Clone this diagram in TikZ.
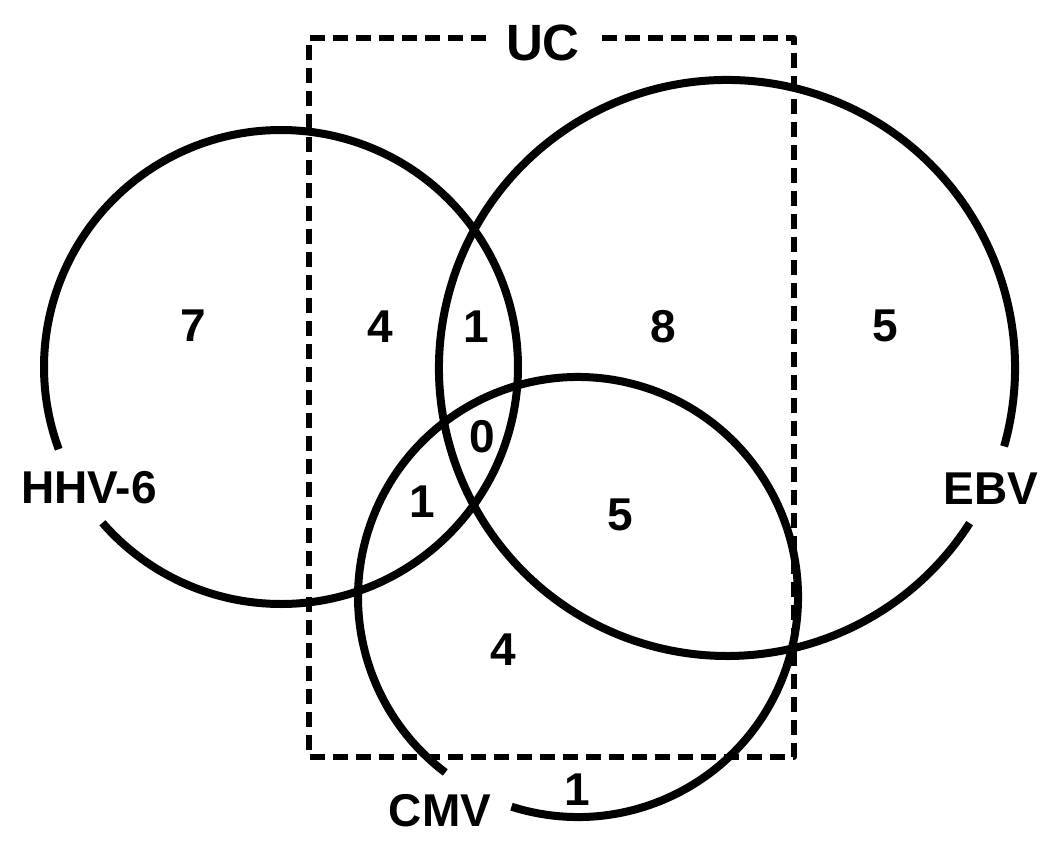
\documentclass[tikz,border=0pt]{standalone}
\usepackage{fontspec}
\setmainfont{Liberation Sans}
\begin{document}
\begin{tikzpicture}[x=1pt,y=1pt,
  ring/.style={line width=8pt},
  ucbox/.style={line width=6pt,dash pattern=on 15pt off 8pt,line join=round},
  lbl/.style={inner sep=0pt,font=\fontsize{46}{50}\selectfont\bfseries},
  uclbl/.style={inner sep=0pt,font=\fontsize{51}{55}\selectfont\bfseries}]
\useasboundingbox (0,0) rectangle (1060,-849);
% circles
\coordinate (hc) at (281,-367);
\coordinate (ec) at (727,-368);
\coordinate (cc) at (578,-597);
\draw[ring] (hc) ++(221.1:237pt) arc[start angle=221.1,end angle=560.3,radius=237pt];
\draw[ring] (ec) ++(-15.8:288pt) arc[start angle=-15.8,end angle=327.4,radius=288pt];
\draw[ring] (cc) ++(252.4:220pt) arc[start angle=252.4,end angle=592.9,radius=220pt];
% UC box
\coordinate (ucl) at (486,-38);
\coordinate (ucr) at (600,-38);
\draw[ucbox] (ucl) -- (309,-38) -- (309,-757) -- (794,-757) -- (794,-38) -- (ucr);
\node[uclbl] (uc) at (543,-43) {UC};
% labels
\node[lbl] (hhv) at (89,-488) {HHV-6};
\node[lbl] (ebv) at (991,-489) {EBV};
\node[lbl] (cmv) at (440,-811) {CMV};
% counts
\node[lbl] (n7) at (193,-326) {7};
\node[lbl] (n4a) at (380,-327) {4};
\node[lbl] (n1a) at (476,-327) {1};
\node[lbl] (n8) at (663,-327) {8};
\node[lbl] (n5a) at (885,-326) {5};
\node[lbl] (n0) at (482,-437) {0};
\node[lbl] (n1b) at (422,-502) {1};
\node[lbl] (n5b) at (620,-515) {5};
\node[lbl] (n4b) at (503,-650) {4};
\node[lbl] (n1c) at (577,-790) {1};
\end{tikzpicture}
\end{document}
